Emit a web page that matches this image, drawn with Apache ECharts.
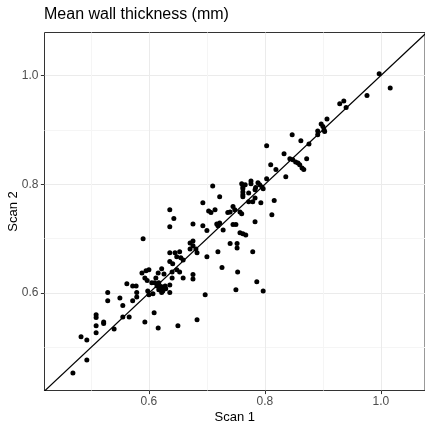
<!DOCTYPE html>
<html>
<head>
<meta charset="utf-8">
<script src="https://cdn.jsdelivr.net/npm/echarts@6/dist/echarts.min.js"></script>
<style>
html, body { margin: 0; padding: 0; background: #ffffff; }
#chart { width: 425px; height: 423px; }
</style>
</head>
<body>
<div id="chart"></div>
<script>
// mean wall thickness, scan 1 vs scan 2 (mm)
var scan1 = [
    0.469, 0.493, 0.483, 0.493, 0.509, 0.509, 0.509, 0.509, 0.522, 0.522,
    0.529, 0.529, 0.540, 0.550, 0.555, 0.555, 0.566, 0.562, 0.572, 0.578,
    0.579, 0.579, 0.572,
    0.590, 0.588, 0.595, 0.600, 0.593, 0.597, 0.598, 0.600, 0.607, 0.605,
    0.609, 0.593, 0.616, 0.616, 0.622, 0.626, 0.612, 0.610, 0.614, 0.617,
    0.621, 0.624, 0.628, 0.624, 0.629, 0.617, 0.622,
    0.636, 0.643, 0.636, 0.636, 0.645, 0.648, 0.653, 0.655, 0.659, 0.636,
    0.641, 0.648, 0.653, 0.640, 0.640, 0.659, 0.636, 0.636, 0.650, 0.683,
    0.676, 0.676, 0.671, 0.676, 0.681, 0.671, 0.683, 0.676, 0.676,
    0.693, 0.703, 0.707, 0.714, 0.710, 0.722, 0.693, 0.700, 0.700, 0.717,
    0.722, 0.719, 0.728, 0.719, 0.726, 0.697, 0.736, 0.740, 0.745, 0.748,
    0.757, 0.760, 0.745, 0.750, 0.740, 0.752, 0.752, 0.757, 0.762, 0.767,
    0.753, 0.750,
    0.772, 0.779, 0.760, 0.766, 0.762, 0.762, 0.762, 0.762, 0.762, 0.776,
    0.776, 0.788, 0.791, 0.795, 0.797, 0.784, 0.783, 0.772, 0.783, 0.793,
    0.816, 0.812, 0.783, 0.779, 0.786, 0.797, 0.803, 0.833, 0.843, 0.848,
    0.853, 0.857, 0.860, 0.864, 0.867, 0.872, 0.810, 0.819, 0.836, 0.803,
    0.847, 0.862, 0.876,
    0.929, 0.936, 0.940, 0.907, 0.897, 0.900, 0.891, 0.891, 0.902, 0.903,
    0.997, 1.016, 0.976
];
var scan2 = [
    0.453, 0.477, 0.520, 0.514, 0.560, 0.555, 0.540, 0.527, 0.547, 0.544,
    0.601, 0.586, 0.534, 0.591, 0.577, 0.556, 0.556, 0.617, 0.613, 0.613,
    0.601, 0.593, 0.586,
    0.700, 0.637, 0.641, 0.643, 0.628, 0.623, 0.604, 0.597, 0.599, 0.619,
    0.564, 0.547, 0.536, 0.637, 0.645, 0.635, 0.628, 0.619, 0.613, 0.619,
    0.612, 0.610, 0.613, 0.604, 0.608, 0.606, 0.601,
    0.753, 0.737, 0.722, 0.674, 0.674, 0.667, 0.676, 0.665, 0.661, 0.658,
    0.654, 0.643, 0.639, 0.639, 0.628, 0.628, 0.615, 0.601, 0.540, 0.551,
    0.727, 0.696, 0.692, 0.687, 0.681, 0.681, 0.674, 0.634, 0.626,
    0.766, 0.751, 0.748, 0.753, 0.797, 0.777, 0.724, 0.715, 0.667, 0.727,
    0.729, 0.724, 0.716, 0.676, 0.647, 0.597, 0.748, 0.749, 0.759, 0.753,
    0.749, 0.746, 0.726, 0.726, 0.691, 0.691, 0.683, 0.711, 0.709, 0.707,
    0.639, 0.606,
    0.768, 0.768, 0.801, 0.799, 0.795, 0.792, 0.786, 0.781, 0.777, 0.806,
    0.801, 0.803, 0.799, 0.795, 0.792, 0.794, 0.790, 0.784, 0.775, 0.766,
    0.770, 0.744, 0.731, 0.676, 0.621, 0.604, 0.871, 0.856, 0.847, 0.845,
    0.841, 0.839, 0.836, 0.830, 0.827, 0.847, 0.836, 0.827, 0.814, 0.810,
    0.891, 0.880, 0.874,
    0.948, 0.953, 0.941, 0.920, 0.911, 0.906, 0.898, 0.891, 0.900, 0.897,
    1.003, 0.977, 0.963
];

var majorTicks = [0.6, 0.8, 1.0];
var minorTicks = [0.5, 0.7, 0.9];
var identityLine = [[0.4, 0.4], [1.1, 1.1]];   // y = x

var points = scan1.map(function (v, i) { return [v, scan2[i]]; });

var font = 'Liberation Sans, Arial, sans-serif';
var chart = echarts.init(document.getElementById('chart'));

var option = {
    backgroundColor: '#ffffff',
    animation: false,
    title: {
        text: 'Mean wall thickness (mm)',
        left: 44,
        top: 7,
        padding: 0,
        textStyle: { color: '#000000', fontSize: 16, fontWeight: 'normal', fontFamily: font }
    },
    grid: {
        left: 44.5,
        right: 0,
        top: 32.5,
        bottom: 32.5,
        outerBoundsMode: 'none',
        containLabel: false,
        show: true,
        borderColor: '#333333',
        borderWidth: 1,
        backgroundColor: '#ffffff'
    },
    xAxis: [
        {
            type: 'value',
            min: 0.42,
            max: 1.076,
            position: 'bottom',
            name: 'Scan 1',
            nameLocation: 'middle',
            nameGap: 20,
            nameMoveOverlap: false,
            nameTextStyle: { color: '#000000', fontSize: 13, fontFamily: font },
            axisLine: { show: false },
            axisTick: { show: true, length: 3.6, customValues: majorTicks, lineStyle: { color: '#333333' } },
            axisLabel: {
                customValues: majorTicks,
                color: '#4d4d4d', fontSize: 12, fontFamily: font, margin: 5,
                formatter: function (v) { return v.toFixed(1); }
            },
            splitLine: { show: true, lineStyle: { color: '#ebebeb', width: 1 } }
        },
        {   // minor grid
            type: 'value',
            min: 0.42,
            max: 1.076,
            position: 'top',
            axisLine: { show: false },
            axisTick: { show: false, customValues: minorTicks },
            axisLabel: { show: false, customValues: minorTicks },
            splitLine: { show: true, lineStyle: { color: '#f5f5f5', width: 1 } }
        }
    ],
    yAxis: [
        {
            type: 'value',
            min: 0.421,
            max: 1.079,
            position: 'left',
            name: 'Scan 2',
            nameLocation: 'middle',
            nameGap: 25,
            nameMoveOverlap: false,
            nameTextStyle: { color: '#000000', fontSize: 13, fontFamily: font },
            axisLine: { show: false },
            axisTick: { show: true, length: 3.6, customValues: majorTicks, lineStyle: { color: '#333333' } },
            axisLabel: {
                customValues: majorTicks,
                color: '#4d4d4d', fontSize: 12, fontFamily: font, margin: 6,
                formatter: function (v) { return v.toFixed(1); }
            },
            splitLine: { show: true, lineStyle: { color: '#ebebeb', width: 1 } }
        },
        {
            type: 'value',
            min: 0.421,
            max: 1.079,
            position: 'right',
            axisLine: { show: false },
            axisTick: { show: false, customValues: minorTicks },
            axisLabel: { show: false, customValues: minorTicks },
            splitLine: { show: true, lineStyle: { color: '#f5f5f5', width: 1 } }
        }
    ],
    series: [
        {
            name: 'scans',
            type: 'scatter',
            xAxisIndex: 0,
            yAxisIndex: 0,
            symbol: 'circle',
            symbolSize: 5,
            itemStyle: { color: '#000000', opacity: 1 },
            data: points
        },
        {
            name: 'y = x',
            type: 'line',
            xAxisIndex: 0,
            yAxisIndex: 0,
            clip: true,
            symbol: 'none',
            lineStyle: { color: '#000000', width: 1.2 },
            data: identityLine
        }
    ]
};
chart.setOption(option);
</script>
</body>
</html>
